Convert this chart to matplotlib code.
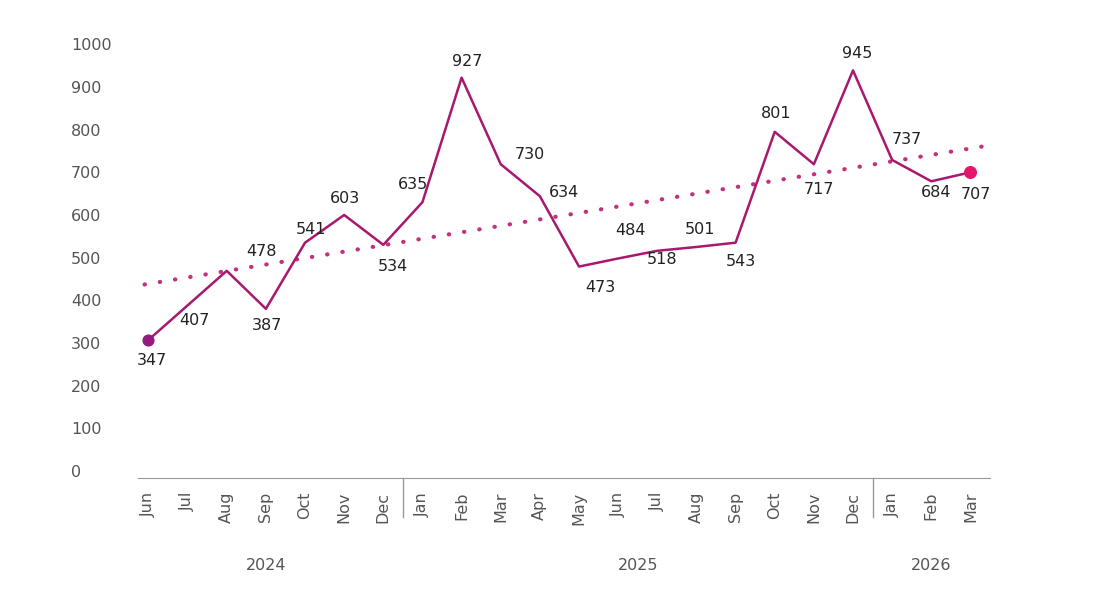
import matplotlib.pyplot as plt

months = ["Jun", "Jul", "Aug", "Sep", "Oct", "Nov", "Dec",
          "Jan", "Feb", "Mar", "Apr", "May", "Jun", "Jul", "Aug", "Sep", "Oct", "Nov", "Dec",
          "Jan", "Feb", "Mar"]
years = ["2024", "2025", "2026"]
year_counts = [7, 12, 3]
# values
line_values = [307, 388, 469, 380, 535, 600, 530,
               630, 922, 719, 644, 479, 498, 516, 525, 535, 795, 719, 939,
               729, 679, 700]
# printed labels
label_values = [347, 407, 478, 387, 541, 603, 534,
                635, 927, 730, 634, 473, 484, 518, 501, 543, 801, 717, 945,
                737, 684, 707]
trend_start, trend_end = 437, 762

# label offsets in pixels (dx, dy)
offsets = [(3, -21), (7, -15), (35, 19), (1, -17), (6, 13), (1, 16), (10, -22),
           (-9, 18), (6, 16), (29, 10), (24, 4), (21, -21), (12, 28), (5, -9), (4, 17),
           (5, -19), (1, 18), (5, -25), (4, 17), (15, 20), (5, -11), (6, -22)]

line_col = "#A8186F"
grey = "#555555"

fig = plt.figure(figsize=(11, 5.9), dpi=100)
ax = fig.add_axes([0.125, 0.19, 0.775, 0.742])
plt.rcParams["font.family"] = ["DejaVu Sans"]

x = list(range(len(months)))
ax.plot(x, line_values, color=line_col, lw=1.8, zorder=3)
ax.plot([-0.1, 21.4], [trend_start, trend_end], color="#C2307E", lw=3,
        linestyle=(0, (0.1, 3.6)), dash_capstyle="round", zorder=2)
ax.scatter([x[0]], [line_values[0]], color="#951A7E", s=60, zorder=4)
ax.scatter([x[-1]], [line_values[-1]], color="#E5166D", s=70, zorder=4)

for xi, yi, lab, (dx, dy) in zip(x, line_values, label_values, offsets):
    ax.annotate(str(lab), (xi, yi), xytext=(dx, dy), textcoords="offset pixels",
                ha="center", va="center", fontsize=11.5, color="#222222")

ax.set_xlim(-0.28, 21.5)
ax.set_ylim(-16.5, 1010)
ax.set_yticks(range(0, 1001, 100))
ax.tick_params(axis="y", length=0, labelsize=11.5, labelcolor=grey, pad=48)
for t in ax.get_yticklabels():
    t.set_ha("left")
ax.set_xticks(x)
ax.set_xticklabels(months, rotation=90, fontsize=11.5, color=grey)
ax.tick_params(axis="x", length=0, pad=10)
for s in ["top", "right", "left"]:
    ax.spines[s].set_visible(False)
ax.spines["bottom"].set_color("#999999")

start = 0
for yr, n in zip(years, year_counts):
    center = start + (n - 1) / 2
    ax.text(center, -0.2, yr, transform=ax.get_xaxis_transform(), ha="center",
            va="center", fontsize=11.5, color=grey)
    if start > 0:
        ax.plot([start - 0.5, start - 0.5], [0, -0.09], transform=ax.get_xaxis_transform(),
                color="#999999", lw=1, clip_on=False)
    start += n

fig.savefig("out.png", dpi=100)
